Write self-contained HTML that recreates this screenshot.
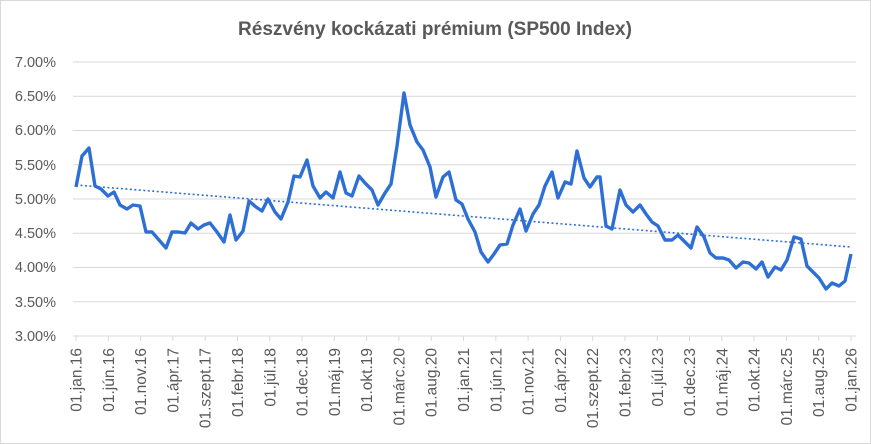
<!DOCTYPE html>
<html><head><meta charset="utf-8"><style>
html,body{margin:0;padding:0;background:#fff;}
svg{display:block;font-family:"Liberation Sans",sans-serif;}
</style></head><body>
<svg width="871" height="444" viewBox="0 0 871 444" xmlns="http://www.w3.org/2000/svg">
<rect x="0.5" y="0.5" width="870" height="443" fill="#fff" stroke="#d9d9d9"/>
<text x="435" y="35" text-anchor="middle" font-size="19" font-weight="bold" fill="#595959">Részvény kockázati prémium (SP500 Index)</text>
<g stroke="#d9d9d9" stroke-width="1">
<line x1="73" x2="856" y1="62" y2="62"/><line x1="73" x2="856" y1="96.25" y2="96.25"/>
<line x1="73" x2="856" y1="130.5" y2="130.5"/><line x1="73" x2="856" y1="164.75" y2="164.75"/>
<line x1="73" x2="856" y1="199" y2="199"/><line x1="73" x2="856" y1="233.25" y2="233.25"/>
<line x1="73" x2="856" y1="267.5" y2="267.5"/><line x1="73" x2="856" y1="301.75" y2="301.75"/>
<line x1="73" x2="856" y1="336" y2="336"/>
</g>
<g font-size="14.5" fill="#595959" text-anchor="end">
<text x="56" y="67">7.00%</text><text x="56" y="101">6.50%</text><text x="56" y="135">6.00%</text>
<text x="56" y="170">5.50%</text><text x="56" y="204">5.00%</text><text x="56" y="238">4.50%</text>
<text x="56" y="272">4.00%</text><text x="56" y="307">3.50%</text><text x="56" y="341">3.00%</text>
</g>
<g stroke="#d9d9d9">
<line x1="76" x2="76" y1="336" y2="341"/><line x1="108.3" x2="108.3" y1="336" y2="341"/><line x1="140.6" x2="140.6" y1="336" y2="341"/><line x1="172.9" x2="172.9" y1="336" y2="341"/><line x1="205.2" x2="205.2" y1="336" y2="341"/><line x1="237.5" x2="237.5" y1="336" y2="341"/><line x1="269.8" x2="269.8" y1="336" y2="341"/><line x1="302" x2="302" y1="336" y2="341"/><line x1="334.3" x2="334.3" y1="336" y2="341"/><line x1="366.6" x2="366.6" y1="336" y2="341"/><line x1="398.9" x2="398.9" y1="336" y2="341"/><line x1="431.2" x2="431.2" y1="336" y2="341"/><line x1="463.5" x2="463.5" y1="336" y2="341"/><line x1="495.8" x2="495.8" y1="336" y2="341"/><line x1="528.1" x2="528.1" y1="336" y2="341"/><line x1="560.4" x2="560.4" y1="336" y2="341"/><line x1="592.7" x2="592.7" y1="336" y2="341"/><line x1="625" x2="625" y1="336" y2="341"/><line x1="657.3" x2="657.3" y1="336" y2="341"/><line x1="689.5" x2="689.5" y1="336" y2="341"/><line x1="721.8" x2="721.8" y1="336" y2="341"/><line x1="754.1" x2="754.1" y1="336" y2="341"/><line x1="786.4" x2="786.4" y1="336" y2="341"/><line x1="818.7" x2="818.7" y1="336" y2="341"/><line x1="851" x2="851" y1="336" y2="341"/>
</g>
<g font-size="15.5" fill="#595959" text-anchor="end">
<text transform="translate(81.5,348) rotate(-90)">01.jan.16</text>
<text transform="translate(113.8,348) rotate(-90)">01.jún.16</text>
<text transform="translate(146.1,348) rotate(-90)">01.nov.16</text>
<text transform="translate(178.4,348) rotate(-90)">01.ápr.17</text>
<text transform="translate(210.7,348) rotate(-90)">01.szept.17</text>
<text transform="translate(243,348) rotate(-90)">01.febr.18</text>
<text transform="translate(275.3,348) rotate(-90)">01.júl.18</text>
<text transform="translate(307.5,348) rotate(-90)">01.dec.18</text>
<text transform="translate(339.8,348) rotate(-90)">01.máj.19</text>
<text transform="translate(372.1,348) rotate(-90)">01.okt.19</text>
<text transform="translate(404.4,348) rotate(-90)">01.márc.20</text>
<text transform="translate(436.7,348) rotate(-90)">01.aug.20</text>
<text transform="translate(469,348) rotate(-90)">01.jan.21</text>
<text transform="translate(501.3,348) rotate(-90)">01.jún.21</text>
<text transform="translate(533.6,348) rotate(-90)">01.nov.21</text>
<text transform="translate(565.9,348) rotate(-90)">01.ápr.22</text>
<text transform="translate(598.2,348) rotate(-90)">01.szept.22</text>
<text transform="translate(630.5,348) rotate(-90)">01.febr.23</text>
<text transform="translate(662.8,348) rotate(-90)">01.júl.23</text>
<text transform="translate(695,348) rotate(-90)">01.dec.23</text>
<text transform="translate(727.3,348) rotate(-90)">01.máj.24</text>
<text transform="translate(759.6,348) rotate(-90)">01.okt.24</text>
<text transform="translate(791.9,348) rotate(-90)">01.márc.25</text>
<text transform="translate(824.2,348) rotate(-90)">01.aug.25</text>
<text transform="translate(856.5,348) rotate(-90)">01.jan.26</text>
</g>
<line x1="76" y1="185" x2="851" y2="247" stroke="#2e6fd6" stroke-width="1.6" stroke-dasharray="2,2.5"/>
<polyline fill="none" stroke="#2e6fd6" stroke-width="3.4" stroke-linejoin="round" points="76,187 82,156 89,148 95,186 101,189 108,196 114,192 120,205 127,209 133,205 140,206 146,232 152,232 159,240 166,248 172,232 178,232 185,233 191,223 198,229 204,225 210,223 217,232 224,242 230,215 236,240 243,231 249,201 256,207 262,211 268,199 275,212 281,219 288,202 294,176 300,177 307,160 313,186 320,198 326,192 333,198 340,172 346,193 352,196 359,176 365,183 372,190 378,205 385,193 391,184 397,146 404,93 410,125 417,142 423,150 430,167 436,197 443,177 449,172 456,200 462,204 468,219 475,232 481,252 488,262 494,254 500,245 507,244 513,225 520,209 526,231 533,214 539,205 545,186 552,172 558,198 565,182 571,184 577,151 584,178 590,187 597,177 600,177 606,226 612,229 620,190 626,205 633,212 640,205 646,214 652,222 658,226 665,240 672,240 678,235 685,242 691,248 697,227 704,237 710,253 716,258 723,258 729,260 736,268 743,262 749,263 756,269 762,262 768,277 775,267 781,270 787,260 794,237 801,239 807,266 813,272 819,278 826,289 832,283 839,286 845,281 851,254"/>
</svg>
</body></html>
